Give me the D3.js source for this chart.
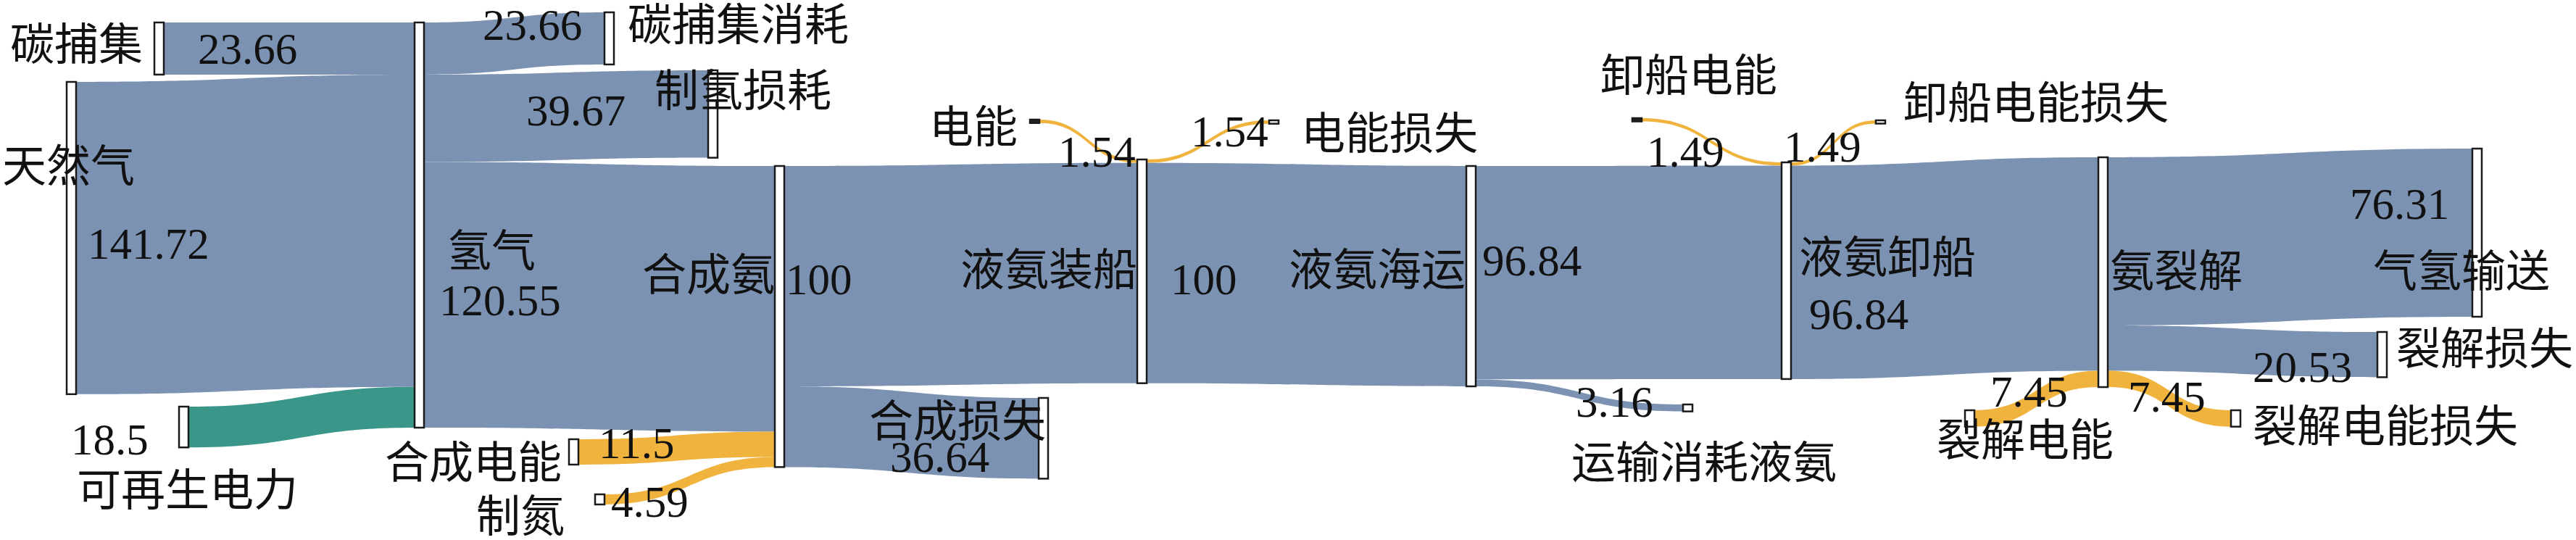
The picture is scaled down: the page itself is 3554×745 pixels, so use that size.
<!DOCTYPE html>
<html>
<head>
<meta charset="utf-8">
<script src="https://cdn.jsdelivr.net/npm/d3@7"></script>
<style>
  body { margin: 0; background: #fff; }
  text { font-size: 61px; fill: #111; }
  .num { font-family: "Liberation Serif", "Times New Roman", "DejaVu Serif", serif; }
  .name { font-family: "Noto Sans CJK SC", sans-serif; }
</style>
</head>
<body>
<div id="chart"></div>
<script>
const w = 3554, h = 745;

// flows (source -> target, value, carrier)
const linkSource = ["碳捕集", "天然气", "可再生电力", "氢气", "氢气", "氢气", "合成电能", "制氮",
  "合成氨", "合成氨", "电能", "液氨装船", "液氨装船", "液氨海运", "液氨海运",
  "卸船电能", "液氨卸船", "液氨卸船", "裂解电能", "氨裂解", "氨裂解", "氨裂解"];
const linkTarget = ["氢气", "氢气", "氢气", "碳捕集消耗", "制氢损耗", "合成氨", "合成氨", "合成氨",
  "液氨装船", "合成损失", "液氨装船", "电能损失", "液氨海运", "液氨卸船", "运输消耗液氨",
  "液氨卸船", "卸船电能损失", "氨裂解", "氨裂解", "气氢输送", "裂解损失", "裂解电能损失"];
const linkValue = [23.66, 141.72, 18.5, 23.66, 39.67, 120.55, 11.5, 4.59,
  100, 36.64, 1.54, 1.54, 100, 96.84, 3.16,
  1.49, 1.49, 96.84, 7.45, 76.31, 20.53, 7.45];
const linkCarrier = ["物料", "物料", "绿电", "物料", "物料", "物料", "电能", "电能",
  "物料", "物料", "电能", "电能", "物料", "物料", "物料",
  "电能", "电能", "物料", "电能", "物料", "物料", "电能"];

// layout: hand placed columns (left x, top y) of each node
const nodeX = {
  "天然气": 92, "碳捕集": 213, "可再生电力": 247, "氢气": 572, "合成电能": 785, "制氮": 821,
  "碳捕集消耗": 834, "制氢损耗": 977, "合成氨": 1069, "电能": 1421, "合成损失": 1433,
  "液氨装船": 1569, "电能损失": 1751, "液氨海运": 2023, "卸船电能": 2252, "运输消耗液氨": 2322,
  "液氨卸船": 2458, "卸船电能损失": 2588, "裂解电能": 2711, "氨裂解": 2895,
  "裂解电能损失": 3078, "裂解损失": 3280, "气氢输送": 3411
};
const nodeY = {
  "天然气": 113, "碳捕集": 31, "可再生电力": 561, "氢气": 31, "合成电能": 606, "制氮": 682,
  "碳捕集消耗": 17, "制氢损耗": 97, "合成氨": 229, "电能": 165, "合成损失": 549,
  "液氨装船": 220, "电能损失": 166, "液氨海运": 229, "卸船电能": 163, "运输消耗液氨": 558,
  "液氨卸船": 224, "卸船电能损失": 166, "裂解电能": 566, "氨裂解": 217,
  "裂解电能损失": 566, "裂解损失": 458, "气氢输送": 205
};
const nodeW = 13;

// label anchors: [x, baseline]
const nameAt = {
  "碳捕集": [14, 83], "天然气": [3, 251], "可再生电力": [106, 698], "氢气": [617, 368],
  "碳捕集消耗": [866, 56], "制氢损耗": [903, 147], "合成电能": [531, 660], "制氮": [657, 734],
  "合成氨": [886, 401], "电能": [1282, 197], "液氨装船": [1325, 394], "合成损失": [1199, 603],
  "电能损失": [1795, 206], "液氨海运": [1778, 394], "卸船电能": [2208, 126],
  "运输消耗液氨": [2168, 660], "液氨卸船": [2482, 377], "卸船电能损失": [2626, 164],
  "氨裂解": [2911, 396], "气氢输送": [3274, 396], "裂解损失": [3306, 503],
  "裂解电能": [2672, 629], "裂解电能损失": [3108, 610]
};
const valueAt = [[273, 88], [121, 357], [98, 627], [666, 55], [726, 173], [606, 435], [826, 632], [843, 713],
  [1084, 406], [1228, 651], [1460, 230], [1643, 202], [1615, 406], [2045, 380], [2174, 575],
  [2272, 230], [2461, 223], [2496, 454], [2746, 561], [3242, 302], [3108, 527], [2936, 568]];

const k = d3.scaleLinear().domain([0, 1]).range([0, 3.04]);
const color = d3.scaleOrdinal(["物料", "电能", "绿电"], ["#7c92b2", "#f0b43e", "#3a9689"]);

// build nodes and links
const names = Array.from(new Set([...linkSource, ...linkTarget]));
const nodes = new Map(names.map(n => [n, {name: n, ins: [], outs: []}]));
const links = linkValue.map((v, i) => {
  const l = {source: nodes.get(linkSource[i]), target: nodes.get(linkTarget[i]), value: v, carrier: linkCarrier[i], i};
  l.source.outs.push(l);
  l.target.ins.push(l);
  return l;
});
for (const n of nodes.values()) {
  n.value = Math.max(d3.sum(n.ins, d => d.value), d3.sum(n.outs, d => d.value));
  n.x0 = nodeX[n.name];
  n.x1 = n.x0 + nodeW;
  n.y0 = nodeY[n.name];
  n.y1 = n.y0 + k(n.value);
}
for (const n of nodes.values()) {
  let y = n.y0;
  n.outs.sort((a, b) => a.target.y0 - b.target.y0).forEach(l => { l.sy0 = y; y += k(l.value); l.sy1 = y; });
  y = n.y0;
  n.ins.sort((a, b) => a.source.y0 - b.source.y0).forEach(l => { l.ty0 = y; y += k(l.value); l.ty1 = y; });
}

function band(l) {
  const sx = l.source.x1, tx = l.target.x0, mx = (sx + tx) / 2;
  const p = d3.path();
  p.moveTo(sx, l.sy0);
  p.bezierCurveTo(mx, l.sy0, mx, l.ty0, tx, l.ty0);
  p.lineTo(tx, l.ty1);
  p.bezierCurveTo(mx, l.ty1, mx, l.sy1, sx, l.sy1);
  p.closePath();
  return p.toString();
}

const svg = d3.select("#chart")
  .append("svg")
  .attr("width", w)
  .attr("height", h)
  .attr("viewBox", [0, 0, w, h]);

svg.append("g")
  .selectAll("path")
  .data(links)
  .join("path")
  .attr("d", band)
  .attr("fill", d => color(d.carrier));

// tiny source nodes render as dark dashes in the original
svg.append("g")
  .selectAll("rect")
  .data(Array.from(nodes.values()))
  .join("rect")
  .attr("x", d => d.x0)
  .attr("y", d => d.y0)
  .attr("width", d => d.x1 - d.x0)
  .attr("height", d => d.y1 - d.y0)
  .attr("fill", d => (d.ins.length === 0 && k(d.value) < 6) ? "#222" : "#fff")
  .attr("stroke", "#1a1a1a")
  .attr("stroke-width", 2.5);

// value labels
svg.append("g")
  .selectAll("text")
  .data(links)
  .join("text")
  .attr("class", "num")
  .attr("x", d => valueAt[d.i][0])
  .attr("y", d => valueAt[d.i][1])
  .text(d => d.value);

// node names
svg.append("g")
  .selectAll("text")
  .data(names)
  .join("text")
  .attr("class", "name")
  .attr("x", d => nameAt[d][0])
  .attr("y", d => nameAt[d][1])
  .text(d => d);
</script>
</body>
</html>
